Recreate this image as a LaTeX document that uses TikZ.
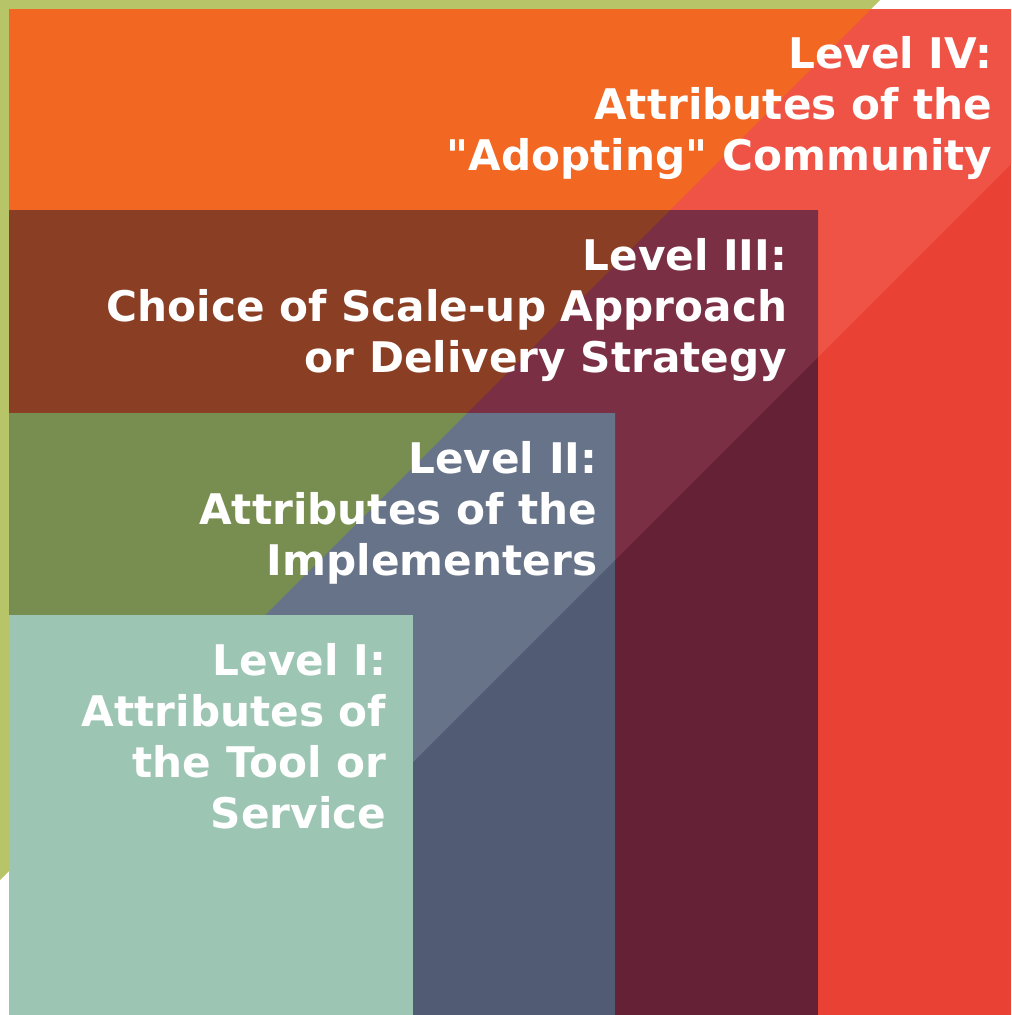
\documentclass[tikz,border=0pt]{standalone}
\usepackage{fontspec}
\setmainfont{DejaVu Sans}

\definecolor{olive}{HTML}{B8C468}
\definecolor{orangeA}{HTML}{F26722}
\definecolor{redB}{HTML}{EF5345}
\definecolor{redC}{HTML}{E94134}
\definecolor{brownA}{HTML}{8A3E23}
\definecolor{maroonB}{HTML}{7A2F44}
\definecolor{maroonC}{HTML}{652136}
\definecolor{greenA}{HTML}{788E50}
\definecolor{slateB}{HTML}{667389}
\definecolor{slateC}{HTML}{525B74}
\definecolor{teal}{HTML}{9CC6B3}

\begin{document}
\begin{tikzpicture}[x=0.01cm,y=-0.01cm,
	lvltext/.style={text=white,font=\bfseries\fontsize{12}{14.5}\selectfont,
		align=right,inner sep=0pt,anchor=north east}]
	
	\useasboundingbox (0,0) rectangle (1011,1015);
	
	% frame, cut off along the first diagonal
	\fill[olive] (0,0) -- (880,0) -- (0,880) -- cycle;
	
	% level IV
	\fill[redC] (9,9) rectangle (1011,1015);
	\begin{scope}
		\clip (9,9) rectangle (1011,1015);
		\fill[redB] (0,0) -- (1175,0) -- (0,1175) -- cycle;
		\fill[orangeA] (0,0) -- (880,0) -- (0,880) -- cycle;
	\end{scope}
	
	% level III
	\fill[maroonC] (9,210) rectangle (818,1015);
	\begin{scope}
		\clip (9,210) rectangle (818,1015);
		\fill[maroonB] (0,0) -- (1175,0) -- (0,1175) -- cycle;
		\fill[brownA] (0,0) -- (880,0) -- (0,880) -- cycle;
	\end{scope}
	
	% level II
	\fill[slateC] (9,413) rectangle (615,1015);
	\begin{scope}
		\clip (9,413) rectangle (615,1015);
		\fill[slateB] (0,0) -- (1175,0) -- (0,1175) -- cycle;
		\fill[greenA] (0,0) -- (880,0) -- (0,880) -- cycle;
	\end{scope}
	
	% level I
	\fill[teal] (9,615) rectangle (413,1015);
	
	\node[lvltext] (four) at (993,36) {Level IV:\\Attributes of the\\\textquotedbl Adopting\textquotedbl{} Community};
	\node[lvltext] (three) at (788,238) {Level III:\\Choice of Scale-up Approach\\or Delivery Strategy};
	\node[lvltext] (two) at (598,441) {Level II:\\Attributes of the\\Implementers};
	\node[lvltext] (one) at (387,643) {Level I:\\Attributes of\\the Tool or\\Service};
	
\end{tikzpicture}
\end{document}
